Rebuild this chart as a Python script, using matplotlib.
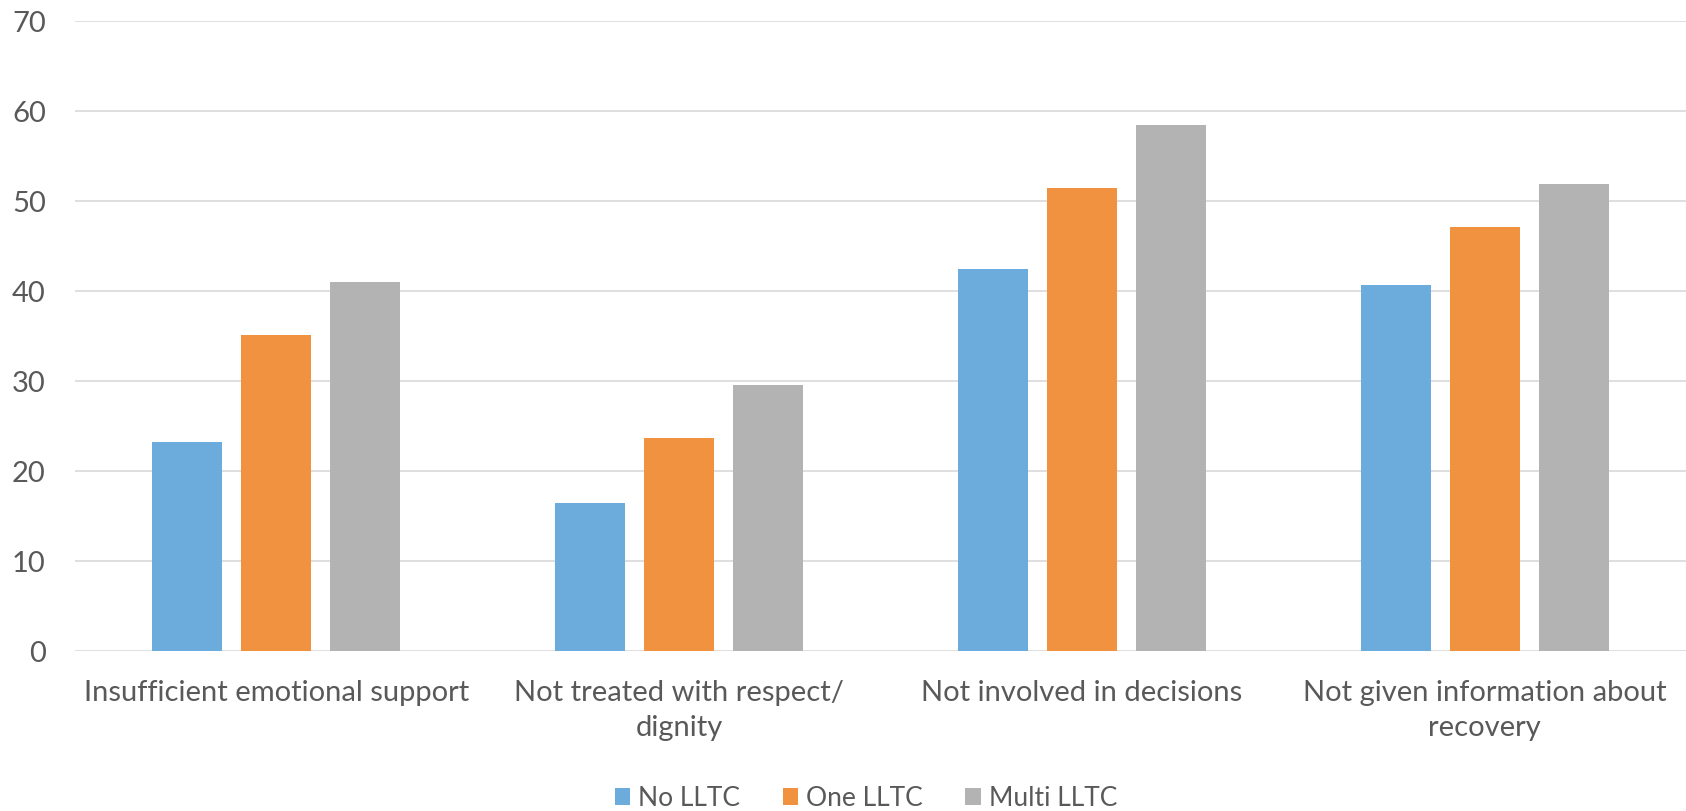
import matplotlib
matplotlib.use("Agg")
from matplotlib import pyplot as plt
import numpy as np

categories = [
    "Insufficient emotional support",
    "Not treated with respect/\ndignity",
    "Not involved in decisions",
    "Not given information about\nrecovery",
]
series_names = ["No LLTC", "One LLTC", "Multi LLTC"]
no_lltc = [23.2, 16.4, 42.5, 40.7]
one_lltc = [35.1, 23.7, 51.4, 47.1]
multi_lltc = [41.0, 29.6, 58.5, 51.9]
y_ticks = [0, 10, 20, 30, 40, 50, 60, 70]

colors = ["#6CACDC", "#F19241", "#B3B3B3"]
text_color = "#595959"

plt.rcParams["font.family"] = ["Lato", "DejaVu Sans"]

fig = plt.figure(figsize=(16.86, 8.12), dpi=100)
ax = fig.add_axes([75 / 1686, 160 / 812, 1 - 75 / 1686, 630 / 812])

x = np.arange(len(categories))
width = 0.174
step = 0.221
for i, (vals, name) in enumerate(zip([no_lltc, one_lltc, multi_lltc], series_names)):
    ax.bar(x + (i - 1) * step, vals, width, color=colors[i], label=name, zorder=3)

ax.set_xlim(-0.5, len(categories) - 0.5)
ax.set_ylim(0, 70)
ax.set_yticks(y_ticks)
ax.yaxis.grid(True, color="#D9D9D9", linewidth=1.2, zorder=0)
ax.set_axisbelow(True)
for side in ["top", "right", "left", "bottom"]:
    ax.spines[side].set_visible(False)

ax.tick_params(axis="y", length=0, pad=21, labelsize=21, labelcolor=text_color)
ax.tick_params(axis="x", length=0, pad=20, labelsize=21, labelcolor=text_color)
ax.set_xticks(x)
ax.set_xticklabels(categories, linespacing=1.45, va="top")

fig.legend(
    loc="center",
    bbox_to_anchor=(866 / 1686, 1 - 799 / 812),
    ncol=3,
    frameon=False,
    fontsize=19,
    labelcolor=text_color,
    handlelength=0.6,
    handleheight=0.6,
    handletextpad=0.3,
    columnspacing=1.6,
)

fig.savefig("out.png", dpi=100)
